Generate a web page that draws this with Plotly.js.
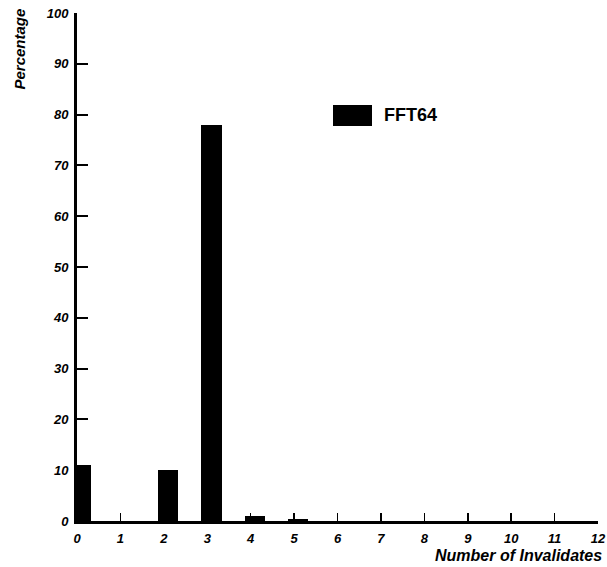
<!DOCTYPE html>
<html><head><meta charset="utf-8">
<script src="https://cdn.plot.ly/plotly-3.0.1.min.js"></script>
<style>html,body{margin:0;padding:0;background:#fff;}#chart{width:607px;height:567px;}</style>
</head><body><div id="chart"></div>
<script>
var invalidates = [0,1,2,3,4,5,6,7,8,9,10,11,12];
var percentage  = [11,0,10,78,1,0.3,0,0,0,0,0,0,0];
var xTickVals = [0,1,2,3,4,5,6,7,8,9,10,11,12];
var yTickVals = [0,10,20,30,40,50,60,70,80,90,100];
var seriesName = "FFT64";

var tickFont = {family:"Liberation Sans, Arial, sans-serif", size:13, color:"#000", weight:"bold", style:"italic"};

var trace = {
  type:"bar", x:invalidates, y:percentage, name:seriesName,
  width:0.47, offset:-0.14,
  marker:{color:"#000", line:{width:0}},
  showlegend:false, hoverinfo:"none"
};

var layout = {
  width:607, height:567,
  margin:{l:77, r:9, t:13, b:46},
  paper_bgcolor:"#fff", plot_bgcolor:"#fff",
  showlegend:false,
  bargap:0,
  xaxis:{range:[0,12], tickvals:xTickVals, ticks:"inside", ticklen:8, tickwidth:1.5, tickcolor:"#000",
    showline:true, linewidth:3, linecolor:"#000", showgrid:false, zeroline:false,
    tickfont:tickFont, ticklabelstandoff:3},
  yaxis:{range:[0,100], tickvals:yTickVals, ticks:"inside", ticklen:11, tickwidth:2, tickcolor:"#000",
    showline:true, linewidth:3, linecolor:"#000", showgrid:false, zeroline:false,
    tickfont:tickFont, ticklabelstandoff:3},
  shapes:[
    {type:"rect", xref:"paper", yref:"paper", x0:(333-77)/521, x1:(372-77)/521, y0:(521-126)/508, y1:(521-105)/508,
     fillcolor:"#000", line:{width:0}}
  ],
  annotations:[
    {text:seriesName, xref:"paper", yref:"paper", x:(382-77)/521, y:(521-115.5)/508, xanchor:"left", yanchor:"middle",
     showarrow:false, font:{family:"Liberation Sans, Arial, sans-serif", size:18, color:"#000", weight:"bold"}},
    {text:"Percentage", xref:"paper", yref:"paper", x:(19-77)/521, y:(521-7)/508, xanchor:"center", yanchor:"top",
     textangle:-90, showarrow:false, font:{family:"Liberation Sans, Arial, sans-serif", size:15, color:"#000", weight:"bold", style:"italic"}},
    {text:"Number of Invalidates", xref:"paper", yref:"paper", x:(604-77)/521, y:(521-566)/508, xanchor:"right", yanchor:"bottom",
     showarrow:false, font:{family:"Liberation Sans, Arial, sans-serif", size:16, color:"#000", weight:"bold", style:"italic"}}
  ]
};

Plotly.newPlot("chart", [trace], layout, {displayModeBar:false, staticPlot:true});
</script>
</body></html>
